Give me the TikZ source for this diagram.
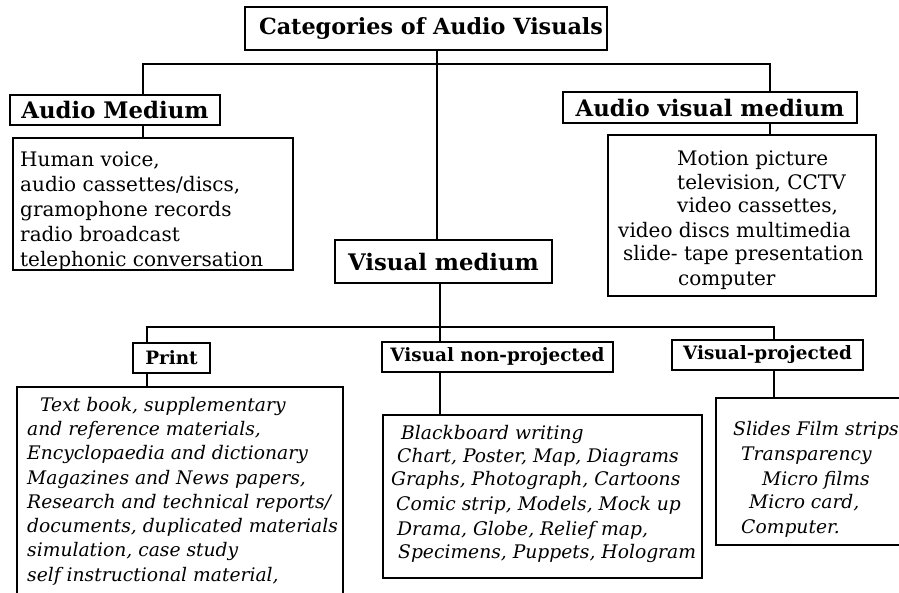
\documentclass[tikz,border=0pt]{standalone}
\usepackage{fontspec}
\setmainfont{DejaVu Serif}
\begin{document}
\begin{tikzpicture}[x=1pt,y=-1pt,
  box/.style={draw=black, line width=1.4pt, rectangle, inner sep=0pt},
  head/.style={box, font=\fontsize{22.8}{26}\selectfont\bfseries},
  sub/.style={box, font=\fontsize{18.4}{22}\selectfont\bfseries},
  txt/.style={anchor=base west, inner sep=0pt, font=\fontsize{20}{24}\selectfont},
  itxt/.style={anchor=base west, inner sep=0pt, font=\fontsize{18.7}{22}\selectfont\itshape},
  conn/.style={draw=black, line width=1.3pt}]
\useasboundingbox (0,0) rectangle (899,592);
\begin{scope}
\clip (0,0) rectangle (899,592);
% headings
\node[head, font=\fontsize{22.3}{26}\selectfont\bfseries, minimum width=362pt, minimum height=43pt] (title) at (426,28.5) {\hspace*{10pt}Categories of Audio Visuals};
\node[head, minimum width=210pt, minimum height=30pt] (am) at (115,110) {Audio Medium};
\node[head, minimum width=294pt, minimum height=31pt] (avm) at (710,107.5) {Audio visual medium};
\node[head, minimum width=217pt, minimum height=43pt] (vm) at (443.5,261.5) {Visual medium};
\node[sub, minimum width=77pt, minimum height=30pt] (pr) at (171.5,358) {Print};
\node[sub, minimum width=231pt, minimum height=30pt] (np) at (497.5,357) {Visual non-projected};
\node[sub, minimum width=191pt, minimum height=30pt] (vp) at (767.5,355) {Visual-projected};
% content boxes
\node[box, minimum width=280pt, minimum height=132pt] (amc) at (153,204) {};
\node[box, minimum width=268pt, minimum height=161pt] (avc) at (742,215.5) {};
\node[box, minimum width=326pt, minimum height=233pt] (prc) at (180,503.5) {};
\node[box, minimum width=319pt, minimum height=163pt] (npc) at (542.5,496.5) {};
\node[box, minimum width=200pt, minimum height=147pt] (vpc) at (816,471.5) {};
% audio medium text
\node[txt] (a1) at (20,166) {Human voice,};
\node[txt] (a2) at (20,191) {audio cassettes/discs,};
\node[txt] (a3) at (20,216) {gramophone records};
\node[txt] (a4) at (20,241) {radio broadcast};
\node[txt] (a5) at (20,266) {telephonic conversation};
% audio visual text
\node[txt] (v1) at (677,165) {Motion picture};
\node[txt] (v2) at (677,189) {television, CCTV};
\node[txt] (v3) at (677,212) {video cassettes,};
\node[txt] (v4) at (618,237) {video discs multimedia};
\node[txt] (v5) at (623,260) {slide- tape presentation};
\node[txt] (v6) at (678,285) {computer};
% print text
\node[itxt] (p1) at (40,411) {Text book, supplementary};
\node[itxt] (p2) at (27,435) {and reference materials,};
\node[itxt] (p3) at (27,459) {Encyclopaedia and dictionary};
\node[itxt] (p4) at (27,484) {Magazines and News papers,};
\node[itxt] (p5) at (27,508) {Research and technical reports/};
\node[itxt] (p6) at (27,532) {documents, duplicated materials};
\node[itxt] (p7) at (27,556) {simulation, case study};
\node[itxt] (p8) at (27,581) {self instructional material,};
% non-projected text
\node[itxt] (n1) at (401,439) {Blackboard writing};
\node[itxt] (n2) at (397,462) {Chart, Poster, Map, Diagrams};
\node[itxt] (n3) at (391,485) {Graphs, Photograph, Cartoons};
\node[itxt] (n4) at (396,510) {Comic strip, Models, Mock up};
\node[itxt] (n5) at (397,535) {Drama, Globe, Relief map,};
\node[itxt] (n6) at (398,558) {Specimens, Puppets, Hologram};
% projected text
\node[itxt] (q1) at (733,435) {Slides Film strips};
\node[itxt] (q2) at (741,460) {Transparency};
\node[itxt] (q3) at (762,485) {Micro films};
\node[itxt] (q4) at (749,508) {Micro card,};
\node[itxt] (q5) at (741,533) {Computer.};
% connector coordinates
\coordinate (amx) at (143,0);
\coordinate (avmx) at (770,0);
\coordinate (trx) at (437,0);
\coordinate (lox) at (440,0);
\coordinate (prx) at (147,0);
\coordinate (vpx) at (774,0);
\coordinate (h1) at (0,64);
\coordinate (h2) at (0,327);
% connectors
\draw[conn] (title.south -| trx) -- (vm.north -| trx);
\draw[conn] (am.north -| amx) -- (h1 -| amx) -- (h1 -| avmx) -- (avm.north -| avmx);
\draw[conn] (am.south -| amx) -- (amc.north -| amx);
\draw[conn] (avm.south -| avmx) -- (avc.north -| avmx);
\draw[conn] (vm.south -| lox) -- (np.north -| lox);
\draw[conn] (pr.north -| prx) -- (h2 -| prx) -- (h2 -| vpx) -- (vp.north -| vpx);
\draw[conn] (pr.south -| prx) -- (prc.north -| prx);
\draw[conn] (np.south -| lox) -- (npc.north -| lox);
\draw[conn] (vp.south -| vpx) -- (vpc.north -| vpx);
\end{scope}
\end{tikzpicture}
\end{document}
